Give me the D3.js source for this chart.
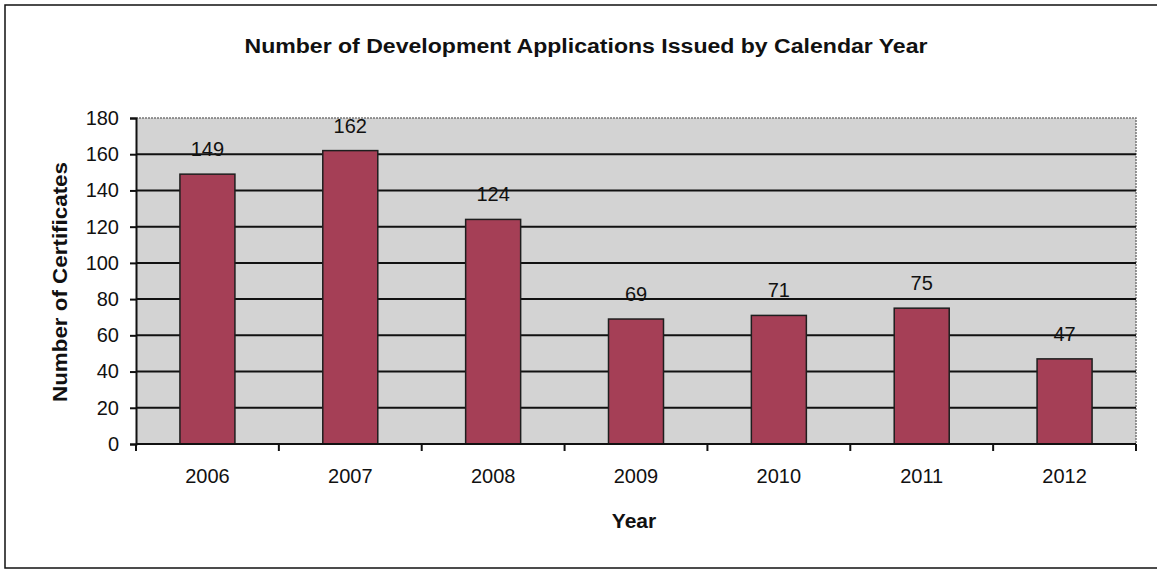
<!DOCTYPE html>
<html>
	<head>
		<meta charset="utf-8">
		<title>Development Applications</title>
		<script src="https://d3js.org/d3.v7.min.js"></script>
		<style>
			body { margin: 0; background: white; }
			svg text { font-family: "Liberation Sans", Arial, sans-serif; fill: #111; }
		</style>
	</head>
	<body>
		<div id="plot"></div>
		<script>
			// data
			var years = ['2006','2007','2008','2009','2010','2011','2012']
			var counts = [149, 162, 124, 69, 71, 75, 47]
			var yTicks = [0, 20, 40, 60, 80, 100, 120, 140, 160, 180]

			var W = 1157, H = 571
			var margin = {top:118, bottom:127, left:136, right:21}
			var width = W - margin.left - margin.right
			var height = H - margin.top - margin.bottom

			var svg = d3.select('#plot').append('svg')
				.attr('width', W)
				.attr('height', H)

			// outer frame
			svg.append('rect')
				.attr('x', 5).attr('y', 5)
				.attr('width', W + 10).attr('height', 563)
				.attr('fill', 'white')
				.attr('stroke', '#111')
				.attr('stroke-width', 1.5)

			svg.append('text')
				.attr('x', 586)
				.attr('y', 53)
				.attr('text-anchor', 'middle')
				.attr('font-weight', 'bold')
				.attr('font-size', 20)
				.attr('textLength', 683)
				.attr('lengthAdjust', 'spacingAndGlyphs')
				.text('Number of Development Applications Issued by Calendar Year')

			var g = svg.append('g')
				.attr('transform', 'translate(' + margin.left + ',' + margin.top + ')')

			var x = d3.scaleBand()
				.domain(years)
				.range([0, width])
				.paddingInner(0.615)
				.paddingOuter(0.3075)
			var y = d3.scaleLinear()
				.domain([0, 180])
				.range([height, 0])

			// plot area
			g.append('rect')
				.attr('width', width)
				.attr('height', height)
				.attr('fill', '#d3d3d3')

			// top and right dotted borders
			g.append('path')
				.attr('d', 'M0,' + y(180) + 'H' + width + 'V' + height)
				.attr('fill', 'none')
				.attr('stroke', '#777')
				.attr('stroke-width', 1.5)
				.attr('stroke-dasharray', '2,1')

			// gridlines
			g.selectAll('.grid')
				.data(yTicks.filter(function(d){ return d > 0 && d < 180 }))
				.enter()
				.append('line')
					.attr('class', 'grid')
					.attr('x1', 0)
					.attr('x2', width)
					.attr('y1', function(d){ return y(d) })
					.attr('y2', function(d){ return y(d) })
					.attr('stroke', '#111')
					.attr('stroke-width', 2)

			// bars
			g.selectAll('.bar')
				.data(counts)
				.enter()
				.append('rect')
					.attr('class', 'bar')
					.attr('x', function(d,i){ return x(years[i]) })
					.attr('y', function(d){ return y(d) })
					.attr('width', x.bandwidth())
					.attr('height', function(d){ return height - y(d) })
					.attr('fill', '#a53f56')
					.attr('stroke', '#1e1e1e')
					.attr('stroke-width', 1.5)

			// value labels
			g.selectAll('.lbl')
				.data(counts)
				.enter()
				.append('text')
					.attr('class', 'lbl')
					.attr('x', function(d,i){ return x(years[i]) + x.bandwidth()/2 })
					.attr('y', function(d){ return y(d) - 18 })
					.attr('text-anchor', 'middle')
					.attr('font-size', 20)
					.text(function(d){ return d })

			// y axis
			var yAxis = g.append('g')
				.call(d3.axisLeft(y).tickValues(yTicks).tickSize(6).tickPadding(11))
			yAxis.select('.domain').attr('stroke', '#111').attr('stroke-width', 2)
			yAxis.selectAll('.tick line').attr('stroke', '#111').attr('stroke-width', 2)
			yAxis.selectAll('.tick text')
				.attr('font-size', 20)
				.attr('font-family', '"Liberation Sans", Arial, sans-serif')
				.attr('fill', '#111')

			// x axis: labels in band centres, ticks on band edges
			var step = x.step()
			var edges = d3.range(years.length + 1).map(function(i){ return i * step })
			var xAxis = g.append('g')
				.attr('transform', 'translate(0,' + height + ')')
			xAxis.append('line')
				.attr('x1', 0).attr('x2', width)
				.attr('stroke', '#111').attr('stroke-width', 2)
			xAxis.selectAll('.xt')
				.data(edges)
				.enter()
				.append('line')
					.attr('class', 'xt')
					.attr('x1', function(d){ return d })
					.attr('x2', function(d){ return d })
					.attr('y1', 0).attr('y2', 7)
					.attr('stroke', '#111').attr('stroke-width', 2)
			xAxis.selectAll('.xl')
				.data(years)
				.enter()
				.append('text')
					.attr('class', 'xl')
					.attr('x', function(d){ return x(d) + x.bandwidth()/2 })
					.attr('y', 39)
					.attr('text-anchor', 'middle')
					.attr('font-size', 20)
					.text(function(d){ return d })

			// axis titles
			svg.append('text')
				.attr('x', 634)
				.attr('y', 528)
				.attr('text-anchor', 'middle')
				.attr('font-weight', 'bold')
				.attr('font-size', 21)
				.text('Year')

			svg.append('text')
				.attr('transform', 'translate(67,282) rotate(-90)')
				.attr('text-anchor', 'middle')
				.attr('font-weight', 'bold')
				.attr('font-size', 21)
				.attr('textLength', 240)
				.attr('lengthAdjust', 'spacingAndGlyphs')
				.text('Number of Certificates')
		</script>
	</body>
</html>
